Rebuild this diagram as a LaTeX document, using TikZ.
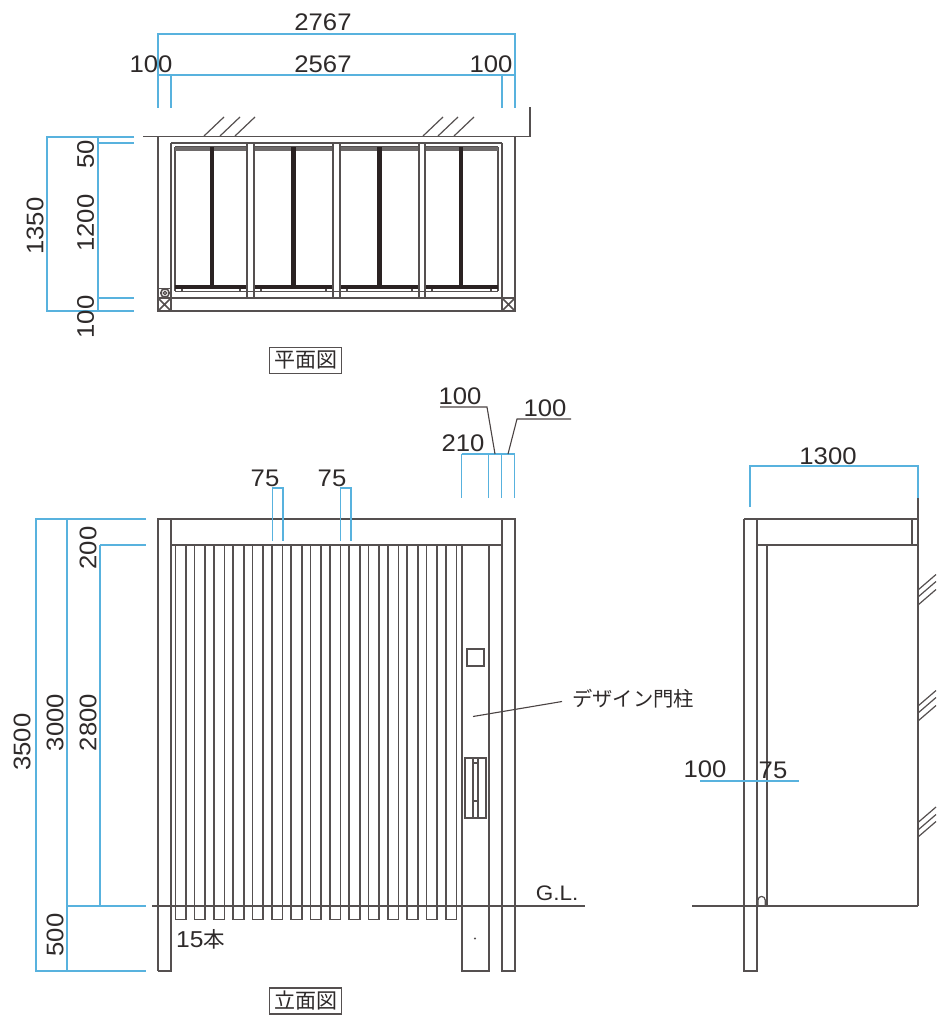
\documentclass[tikz,border=0pt]{standalone}
\usepackage{fontspec}
\setmainfont{Liberation Sans}
\newfontfamily\numfont[FakeStretch=1.07]{Liberation Sans}
\newfontfamily\jpfont{Noto Sans CJK JP}
\definecolor{ink}{HTML}{555050}
\definecolor{dark}{HTML}{2A2222}
\definecolor{dim}{HTML}{58B2DE}
\definecolor{txt}{HTML}{2E2A2A}
\tikzset{
  ln/.style={draw=ink,line width=1.6},
  thin ln/.style={draw=ink,line width=1.2},
  dimln/.style={draw=dim,line width=1.4},
  lead/.style={draw=dark!85,line width=1.1},
  lbl/.style={text=txt,inner sep=0,font=\numfont\fontsize{24}{25}\selectfont},
  jp/.style={text=txt,inner sep=0,font=\jpfont\fontsize{20.3}{22}\selectfont},
  title/.style={draw=ink,line width=1.2,text=txt,minimum width=72,minimum height=26,inner sep=0,font=\jpfont\fontsize{21}{22}\selectfont}
}
\begin{document}
\begin{tikzpicture}[x=1pt,y=-1pt]
\useasboundingbox (0,0) rectangle (941,1024);
\fill[white] (0,0) rectangle (941,1024);
% ---------- PLAN ----------
\draw[ln] (143,136.5) -- (530,136.5) -- (530,107);
\draw[ln] (158,136.5) -- (158,311) -- (515,311) -- (515,136.5);
\foreach \x in {204,220,235,423,438,454} \draw[thin ln] (\x,136) -- ++(20,-19);
\draw[ln] (171,143) -- (502,143);
\draw[ln] (171,143) -- (171,298);
\draw[ln] (502,143) -- (502,298);
\draw[ln] (171,298) -- (502,298);
\draw[thin ln] (175,147) -- (498,147);
\draw[thin ln] (175,147) -- (175,291);
\draw[thin ln] (498,147) -- (498,291);
\draw[thin ln] (175,291.5) -- (498,291.5);
\foreach \a/\b/\m in {175/247/212,254/333/293.5,340/419/379.5,425/498/461}{
  \fill[ink!85] (\a,147.5) rectangle (\b,151.5);
  \fill[dark] (\a,285) rectangle (\b,289);
  \fill[dark] (\m-2.3,147) rectangle (\m+2.3,289);
  \draw[thin ln] (\a+7,289) -- (\a+7,292);
  \draw[thin ln] (\b-7,289) -- (\b-7,292);
}
\foreach \a/\b in {247/254,333/340,419/425}{
  \fill[white] (\a,143.8) rectangle (\b,297.2);
  \draw[ln] (\a,143) -- (\a,298);
  \draw[ln] (\b,143) -- (\b,298);
  \draw[thin ln] (\a,291.5) -- (\b,291.5);
}
\draw[ln] (158,288.5) -- (171,288.5);
\draw[ln] (158,298) -- (171,298);
\draw[ln] (165,293) circle (4.2);
\draw[thin ln] (165,293) circle (1.8);
\draw[ln] (158,298) -- (171,311) (171,298) -- (158,311);
\draw[ln] (171,298) -- (171,311);
\draw[ln] (502,298) rectangle (515,311);
\draw[ln] (502,298) -- (515,311) (515,298) -- (502,311);
% plan dimensions
\draw[dimln] (158,108) -- (158,34) -- (515,34) -- (515,108);
\draw[dimln] (158,75) -- (515,75);
\draw[dimln] (171,75) -- (171,108);
\draw[dimln] (502,75) -- (502,108);
\draw[dimln] (134,137) -- (47,137) -- (47,311) -- (134,311);
\draw[dimln] (98,137) -- (98,311);
\draw[dimln] (98,143) -- (134,143);
\draw[dimln] (98,298) -- (134,298);
\node[lbl] (p2767) at (323,22) {2767};
\node[lbl] (p100a) at (151,64) {100};
\node[lbl] (p2567) at (323,64) {2567};
\node[lbl] (p100b) at (491,64) {100};
\node[lbl,rotate=90] (p1350) at (35,226) {1350};
\node[lbl,rotate=90] (p50) at (85.5,154) {50};
\node[lbl,rotate=90] (p1200) at (85.5,223) {1200};
\node[lbl,rotate=90] (p100c) at (85.5,317) {100};
\node[title] (plantitle) at (305.5,360.5) {平面図};
% ---------- ELEVATION ----------
\foreach \k in {0,...,14}{
  \pgfmathsetmacro{\xa}{175.3+19.33*\k}
  \draw[ln] (\xa,545) -- (\xa,919.5) -- (\xa+10.6,919.5) -- (\xa+10.6,545);
}
\draw[ln] (158,971) -- (158,519) -- (515,519) -- (515,971) -- (502,971) -- (502,545);
\draw[ln] (158,971) -- (171,971) -- (171,519);
\draw[ln] (171,545) -- (502,545);
\draw[ln] (502,519) -- (502,545);
\draw[ln] (462,545) -- (462,971) -- (489,971) -- (489,545);
\draw[ln] (152,906) -- (585,906);
\draw[thin ln] (467,649) rectangle (484,666);
\draw[ln] (465,758) rectangle (486,818);
\draw[thin ln] (473,758) -- (473,818) (478,758) -- (478,818);
\draw[thin ln] (473,763) -- (478,763);
\draw[ln] (473,801) -- (478,801);
\fill[ink] (475,938.5) circle (1.1);
\draw[lead] (473,716.5) -- (562,701.5);
\node[jp,anchor=west] (design) at (572,699) {デザイン門柱};
\node[lbl,font=\numfont\fontsize{21}{22}\selectfont] (gl) at (557,893.5) {G.L.};
\node[lbl,anchor=west,font=\numfont\fontsize{23}{22}\selectfont] (count) at (176,939) {15{\jpfont\fontsize{21.5}{22}\selectfont 本}};
\node[title] (elevtitle) at (305.5,1001) {立面図};
% elevation dimensions
\draw[dimln] (146,519) -- (36,519) -- (36,971) -- (146,971);
\draw[dimln] (67,519) -- (67,971);
\draw[dimln] (67,906) -- (146,906);
\draw[dimln] (100,545) -- (100,906);
\draw[dimln] (100,545) -- (146,545);
\draw[dimln] (272.5,541) -- (272.5,488) -- (283,488) -- (283,541);
\draw[dimln] (340.5,541) -- (340.5,488) -- (351,488) -- (351,541);
\draw[dimln] (461.5,454) -- (514.5,454);
\foreach \x in {461.5,488.7,501.3,514.5} \draw[dimln] (\x,454) -- (\x,498);
\draw[lead] (440,407) -- (487,407) -- (495,454);
\draw[lead] (571,419) -- (517,419) -- (508,454);
\node[lbl] (e100a) at (460,396) {100};
\node[lbl] (e100b) at (545,408) {100};
\node[lbl] (e210) at (463,443) {210};
\node[lbl] (e75a) at (265,478) {75};
\node[lbl] (e75b) at (332,478) {75};
\node[lbl,rotate=90] (e3500) at (22,742) {3500};
\node[lbl,rotate=90] (e3000) at (55,722.5) {3000};
\node[lbl,rotate=90] (e2800) at (88,722.5) {2800};
\node[lbl,rotate=90] (e200) at (88,548) {200};
\node[lbl,rotate=90] (e500) at (55,935) {500};
% ---------- SIDE ----------
\draw[ln] (744,519) -- (744,971) -- (757,971) -- (757,519);
\draw[ln] (744,519) -- (918,519);
\draw[ln] (757,545) -- (918,545);
\draw[ln] (912,519) -- (912,545);
\draw[ln] (918,498) -- (918,906);
\draw[ln] (767,545) -- (767,906);
\draw[ln] (692,906) -- (918,906);
\draw[thin ln] (758,906) -- (758,900) arc (180:360:3.6) -- (765.2,906);
\foreach \y in {590,597,605,706,713,721,822.5,830,837}
  \draw[thin ln] (918,\y) -- ++(18,-15.5);
\draw[dimln] (750,507) -- (750,466) -- (918,466) -- (918,498);
\draw[dimln] (700,781) -- (799,781);
\node[lbl] (s1300) at (828,456) {1300};
\node[lbl] (s100) at (705,769) {100};
\node[lbl] (s75) at (773,770) {75};
\end{tikzpicture}
\end{document}
